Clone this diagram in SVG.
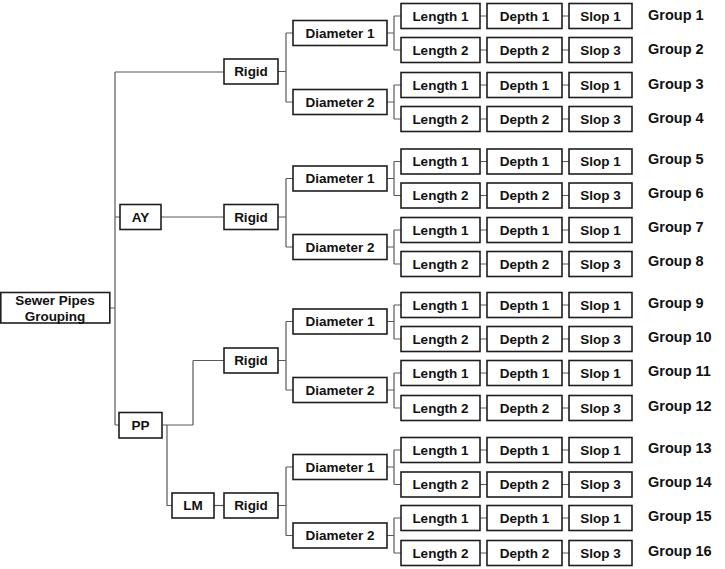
<svg xmlns="http://www.w3.org/2000/svg" width="725" height="569" viewBox="0 0 725 569">
<style>
.b{fill:#fff;stroke:#1e1e1e;stroke-width:1.6}
.t{font-family:"Liberation Sans",Arial,sans-serif;font-weight:bold;font-size:13.5px;fill:#111;text-anchor:middle}
.g{font-family:"Liberation Sans",Arial,sans-serif;font-weight:bold;font-size:14.5px;fill:#111}
.c{fill:none;stroke:#5a5a5a;stroke-width:1.2}
</style>
<rect width="725" height="569" fill="#fff"/>
<g id="connectors" class="c">
<path d="M110,308H115M115,72V425M115,72H224M115,217H120M115,425H119"/>
<path d="M161,217H224"/>
<path d="M162,425H193M193,360.5V425M193,360.5H224M167,425V505.5H172"/>
<path d="M214,505.5H224"/>
<path d="M278,71.5H286M286,33V102M286,33H293M286,102H293"/>
<path d="M278,217H286M286,178.5V247M286,178.5H293M286,247H293"/>
<path d="M278,360.5H286M286,321.5V390M286,321.5H293M286,390H293"/>
<path d="M278,505.5H286M286,467V535.5M286,467H293M286,535.5H293"/>
<path d="M387,33H394M394,16V50M394,16H401M394,50H401"/>
<path d="M387,102H394M394,85V119M394,85H401M394,119H401"/>
<path d="M387,178.5H394M394,161.5V195.5M394,161.5H401M394,195.5H401"/>
<path d="M387,247H394M394,230V264M394,230H401M394,264H401"/>
<path d="M387,321.5H394M394,305V339M394,305H401M394,339H401"/>
<path d="M387,390H394M394,373V408M394,373H401M394,408H401"/>
<path d="M387,467H394M394,450V484.5M394,450H401M394,484.5H401"/>
<path d="M387,535.5H394M394,518V553M394,518H401M394,553H401"/>
<path d="M480,16H487M562,16H569M480,50H487M562,50H569M480,85H487M562,85H569M480,119H487M562,119H569"/>
<path d="M480,161.5H487M562,161.5H569M480,195.5H487M562,195.5H569M480,230H487M562,230H569M480,264H487M562,264H569"/>
<path d="M480,305H487M562,305H569M480,339H487M562,339H569M480,373H487M562,373H569M480,408H487M562,408H569"/>
<path d="M480,450H487M562,450H569M480,484.5H487M562,484.5H569M480,518H487M562,518H569M480,553H487M562,553H569"/>
</g>
<g id="root"><rect class="b" x="0.8" y="292.5" width="109" height="30.5"/><text class="t" x="55" y="305">Sewer Pipes</text><text class="t" x="55" y="320.5">Grouping</text></g>
<g id="ay"><rect class="b" x="120" y="204.5" width="41" height="25"/><text class="t" x="140.5" y="221.8">AY</text></g>
<g id="pp"><rect class="b" x="119" y="412.5" width="43" height="25.5"/><text class="t" x="140.5" y="430">PP</text></g>
<g id="lm"><rect class="b" x="172" y="493" width="42" height="25"/><text class="t" x="193" y="510.3">LM</text></g>
<g id="rigid1"><rect class="b" x="224" y="59" width="54" height="25"/><text class="t" x="251" y="76.3">Rigid</text></g>
<g id="rigid2"><rect class="b" x="224" y="204.5" width="54" height="25"/><text class="t" x="251" y="221.8">Rigid</text></g>
<g id="rigid3"><rect class="b" x="224" y="348" width="54" height="25"/><text class="t" x="251" y="365.3">Rigid</text></g>
<g id="rigid4"><rect class="b" x="224" y="493" width="54" height="25"/><text class="t" x="251" y="510.3">Rigid</text></g>
<g id="d1"><rect class="b" x="293" y="20.5" width="94" height="25"/><text class="t" x="340" y="37.8">Diameter 1</text></g>
<g id="d2"><rect class="b" x="293" y="89.5" width="94" height="25"/><text class="t" x="340" y="106.8">Diameter 2</text></g>
<g id="d3"><rect class="b" x="293" y="166" width="94" height="25"/><text class="t" x="340" y="183.3">Diameter 1</text></g>
<g id="d4"><rect class="b" x="293" y="234.5" width="94" height="25"/><text class="t" x="340" y="251.8">Diameter 2</text></g>
<g id="d5"><rect class="b" x="293" y="309" width="94" height="25"/><text class="t" x="340" y="326.3">Diameter 1</text></g>
<g id="d6"><rect class="b" x="293" y="377.5" width="94" height="25"/><text class="t" x="340" y="394.8">Diameter 2</text></g>
<g id="d7"><rect class="b" x="293" y="454.5" width="94" height="25"/><text class="t" x="340" y="471.8">Diameter 1</text></g>
<g id="d8"><rect class="b" x="293" y="523" width="94" height="25"/><text class="t" x="340" y="540.3">Diameter 2</text></g>
<g id="row1"><rect class="b" x="401" y="3.5" width="79" height="25"/><text class="t" x="440.5" y="20.8">Length 1</text><rect class="b" x="487" y="3.5" width="75" height="25"/><text class="t" x="524.5" y="20.8">Depth 1</text><rect class="b" x="569" y="3.5" width="63" height="25"/><text class="t" x="600.5" y="20.8">Slop 1</text><text class="g" x="648" y="20">Group 1</text></g>
<g id="row2"><rect class="b" x="401" y="37.5" width="79" height="25"/><text class="t" x="440.5" y="54.8">Length 2</text><rect class="b" x="487" y="37.5" width="75" height="25"/><text class="t" x="524.5" y="54.8">Depth 2</text><rect class="b" x="569" y="37.5" width="63" height="25"/><text class="t" x="600.5" y="54.8">Slop 3</text><text class="g" x="648" y="54">Group 2</text></g>
<g id="row3"><rect class="b" x="401" y="72.5" width="79" height="25"/><text class="t" x="440.5" y="89.8">Length 1</text><rect class="b" x="487" y="72.5" width="75" height="25"/><text class="t" x="524.5" y="89.8">Depth 1</text><rect class="b" x="569" y="72.5" width="63" height="25"/><text class="t" x="600.5" y="89.8">Slop 1</text><text class="g" x="648" y="89">Group 3</text></g>
<g id="row4"><rect class="b" x="401" y="106.5" width="79" height="25"/><text class="t" x="440.5" y="123.8">Length 2</text><rect class="b" x="487" y="106.5" width="75" height="25"/><text class="t" x="524.5" y="123.8">Depth 2</text><rect class="b" x="569" y="106.5" width="63" height="25"/><text class="t" x="600.5" y="123.8">Slop 3</text><text class="g" x="648" y="123">Group 4</text></g>
<g id="row5"><rect class="b" x="401" y="149" width="79" height="25"/><text class="t" x="440.5" y="166.3">Length 1</text><rect class="b" x="487" y="149" width="75" height="25"/><text class="t" x="524.5" y="166.3">Depth 1</text><rect class="b" x="569" y="149" width="63" height="25"/><text class="t" x="600.5" y="166.3">Slop 1</text><text class="g" x="648" y="163.5">Group 5</text></g>
<g id="row6"><rect class="b" x="401" y="183" width="79" height="25"/><text class="t" x="440.5" y="200.3">Length 2</text><rect class="b" x="487" y="183" width="75" height="25"/><text class="t" x="524.5" y="200.3">Depth 2</text><rect class="b" x="569" y="183" width="63" height="25"/><text class="t" x="600.5" y="200.3">Slop 3</text><text class="g" x="648" y="197.5">Group 6</text></g>
<g id="row7"><rect class="b" x="401" y="217.5" width="79" height="25"/><text class="t" x="440.5" y="234.8">Length 1</text><rect class="b" x="487" y="217.5" width="75" height="25"/><text class="t" x="524.5" y="234.8">Depth 1</text><rect class="b" x="569" y="217.5" width="63" height="25"/><text class="t" x="600.5" y="234.8">Slop 1</text><text class="g" x="648" y="232">Group 7</text></g>
<g id="row8"><rect class="b" x="401" y="251.5" width="79" height="25"/><text class="t" x="440.5" y="268.8">Length 2</text><rect class="b" x="487" y="251.5" width="75" height="25"/><text class="t" x="524.5" y="268.8">Depth 2</text><rect class="b" x="569" y="251.5" width="63" height="25"/><text class="t" x="600.5" y="268.8">Slop 3</text><text class="g" x="648" y="266">Group 8</text></g>
<g id="row9"><rect class="b" x="401" y="292.5" width="79" height="25"/><text class="t" x="440.5" y="309.8">Length 1</text><rect class="b" x="487" y="292.5" width="75" height="25"/><text class="t" x="524.5" y="309.8">Depth 1</text><rect class="b" x="569" y="292.5" width="63" height="25"/><text class="t" x="600.5" y="309.8">Slop 1</text><text class="g" x="648" y="308">Group 9</text></g>
<g id="row10"><rect class="b" x="401" y="326.5" width="79" height="25"/><text class="t" x="440.5" y="343.8">Length 2</text><rect class="b" x="487" y="326.5" width="75" height="25"/><text class="t" x="524.5" y="343.8">Depth 2</text><rect class="b" x="569" y="326.5" width="63" height="25"/><text class="t" x="600.5" y="343.8">Slop 3</text><text class="g" x="648" y="342">Group 10</text></g>
<g id="row11"><rect class="b" x="401" y="360.5" width="79" height="25"/><text class="t" x="440.5" y="377.8">Length 1</text><rect class="b" x="487" y="360.5" width="75" height="25"/><text class="t" x="524.5" y="377.8">Depth 1</text><rect class="b" x="569" y="360.5" width="63" height="25"/><text class="t" x="600.5" y="377.8">Slop 1</text><text class="g" x="648" y="376">Group 11</text></g>
<g id="row12"><rect class="b" x="401" y="395.5" width="79" height="25"/><text class="t" x="440.5" y="412.8">Length 2</text><rect class="b" x="487" y="395.5" width="75" height="25"/><text class="t" x="524.5" y="412.8">Depth 2</text><rect class="b" x="569" y="395.5" width="63" height="25"/><text class="t" x="600.5" y="412.8">Slop 3</text><text class="g" x="648" y="411">Group 12</text></g>
<g id="row13"><rect class="b" x="401" y="437.5" width="79" height="25"/><text class="t" x="440.5" y="454.8">Length 1</text><rect class="b" x="487" y="437.5" width="75" height="25"/><text class="t" x="524.5" y="454.8">Depth 1</text><rect class="b" x="569" y="437.5" width="63" height="25"/><text class="t" x="600.5" y="454.8">Slop 1</text><text class="g" x="648" y="453">Group 13</text></g>
<g id="row14"><rect class="b" x="401" y="472" width="79" height="25"/><text class="t" x="440.5" y="489.3">Length 2</text><rect class="b" x="487" y="472" width="75" height="25"/><text class="t" x="524.5" y="489.3">Depth 2</text><rect class="b" x="569" y="472" width="63" height="25"/><text class="t" x="600.5" y="489.3">Slop 3</text><text class="g" x="648" y="487">Group 14</text></g>
<g id="row15"><rect class="b" x="401" y="505.5" width="79" height="25"/><text class="t" x="440.5" y="522.8">Length 1</text><rect class="b" x="487" y="505.5" width="75" height="25"/><text class="t" x="524.5" y="522.8">Depth 1</text><rect class="b" x="569" y="505.5" width="63" height="25"/><text class="t" x="600.5" y="522.8">Slop 1</text><text class="g" x="648" y="521">Group 15</text></g>
<g id="row16"><rect class="b" x="401" y="540.5" width="79" height="25"/><text class="t" x="440.5" y="557.8">Length 2</text><rect class="b" x="487" y="540.5" width="75" height="25"/><text class="t" x="524.5" y="557.8">Depth 2</text><rect class="b" x="569" y="540.5" width="63" height="25"/><text class="t" x="600.5" y="557.8">Slop 3</text><text class="g" x="648" y="556">Group 16</text></g>
</svg>
